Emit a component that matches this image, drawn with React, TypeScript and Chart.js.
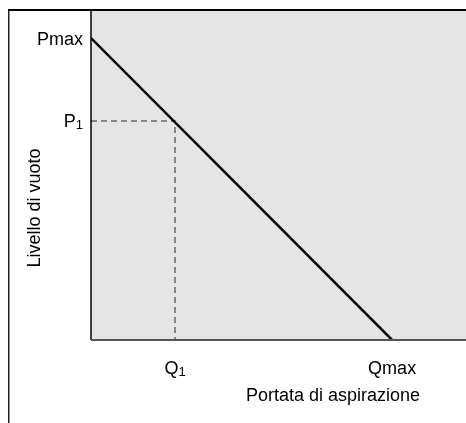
import React, { useEffect, useRef } from "react";
import { Chart, registerables } from "chart.js";

Chart.register(...registerables);

// label = [main text, subscript]
const Q_LABELS: [string, string][] = [["Q", "1"], ["Qmax", ""]];
const Q_VALUES = [22.4, 80.3];
const P_LABELS: [string, string][] = [["P", "1"], ["Pmax", ""]];
const P_VALUES = [66.4, 91.5];
const X_TITLE = "Portata di aspirazione";
const Y_TITLE = "Livello di vuoto";

const FONT = "'Liberation Sans', Arial, sans-serif";
const FS = 18;
const SUB = 13;

function labelWidth(ctx: CanvasRenderingContext2D, l: [string, string]) {
  ctx.font = `${FS}px ${FONT}`;
  const w1 = ctx.measureText(l[0]).width;
  ctx.font = `${SUB}px ${FONT}`;
  const w2 = l[1] ? ctx.measureText(l[1]).width : 0;
  return [w1, w2];
}

function drawLabel(ctx: CanvasRenderingContext2D, l: [string, string], x: number, y: number, align: "right" | "center") {
  const [w1, w2] = labelWidth(ctx, l);
  const total = w1 + w2;
  const x0 = align === "right" ? x - total : x - total / 2;
  ctx.textAlign = "left";
  ctx.textBaseline = "alphabetic";
  ctx.font = `${FS}px ${FONT}`;
  const base = y + FS * 0.36;
  ctx.fillText(l[0], x0, base);
  if (l[1]) {
    ctx.font = `${SUB}px ${FONT}`;
    ctx.fillText(l[1], x0 + w1, base + 2);
  }
}

const framePlugin = {
  id: "frame",
  beforeDatasetsDraw(chart: any) {
    const { ctx, chartArea: a } = chart;
    ctx.save();
    ctx.fillStyle = "#e5e5e5";
    ctx.fillRect(a.left, a.top, a.right - a.left, a.bottom - a.top);
    ctx.restore();
  },
  afterDraw(chart: any) {
    const { ctx, chartArea: a, width, height } = chart;
    const xs = chart.scales.x;
    const ys = chart.scales.y;
    ctx.save();
    // outer frame
    ctx.strokeStyle = "#222";
    ctx.lineWidth = 1.5;
    ctx.beginPath();
    ctx.moveTo(0.75, height);
    ctx.lineTo(0.75, a.top);
    ctx.stroke();
    ctx.strokeStyle = "#000";
    ctx.lineWidth = 2;
    ctx.beginPath();
    ctx.moveTo(0, a.top);
    ctx.lineTo(width, a.top);
    ctx.stroke();
    // plot left border
    ctx.lineWidth = 1.5;
    ctx.beginPath();
    ctx.moveTo(a.left, a.top);
    ctx.lineTo(a.left, a.bottom);
    ctx.stroke();
    // plot bottom border
    ctx.strokeStyle = "#555";
    ctx.lineWidth = 2;
    ctx.beginPath();
    ctx.moveTo(a.left, a.bottom);
    ctx.lineTo(width, a.bottom);
    ctx.stroke();
    // tick labels
    ctx.fillStyle = "#000";
    P_VALUES.forEach((v, i) => drawLabel(ctx, P_LABELS[i], a.left - 8, ys.getPixelForValue(v), "right"));
    Q_VALUES.forEach((v, i) => drawLabel(ctx, Q_LABELS[i], xs.getPixelForValue(v), a.bottom + 28, "center"));
    // titles
    ctx.font = `${FS}px ${FONT}`;
    ctx.textAlign = "center";
    ctx.textBaseline = "middle";
    ctx.fillText(X_TITLE, 325, a.bottom + 56);
    ctx.translate(27, 200);
    ctx.rotate(-Math.PI / 2);
    ctx.fillText(Y_TITLE, 0, 0);
    ctx.restore();
  },
};

const zeroPad = (s: any) => {
  s.paddingTop = 0;
  s.paddingBottom = 0;
  s.paddingLeft = 0;
  s.paddingRight = 0;
};

export default function App() {
  const ref = useRef<HTMLCanvasElement>(null);
  useEffect(() => {
    if (!ref.current) return;
    const chart = new Chart(ref.current, {
      type: "line",
      data: {
        datasets: [
          {
            data: [
              { x: 0, y: P_VALUES[1] },
              { x: Q_VALUES[1], y: 0 },
            ],
            borderColor: "#000",
            borderWidth: 2.5,
            pointRadius: 0,
            tension: 0,
          },
          {
            data: [
              { x: 0, y: P_VALUES[0] },
              { x: Q_VALUES[0], y: P_VALUES[0] },
              { x: Q_VALUES[0], y: 0 },
            ],
            borderColor: "#666",
            borderWidth: 1.5,
            borderDash: [6, 4],
            pointRadius: 0,
            tension: 0,
          },
        ],
      },
      options: {
        animation: false,
        responsive: false,
        maintainAspectRatio: false,
        layout: { padding: { top: 2, right: 0, left: 0, bottom: 0 } },
        plugins: { legend: { display: false }, tooltip: { enabled: false } },
        scales: {
          x: {
            type: "linear",
            min: 0,
            max: 100,
            grid: { display: false },
            border: { display: false },
            ticks: { display: false },
            afterFit: (s: any) => {
              s.height = 83;
              zeroPad(s);
            },
          },
          y: {
            type: "linear",
            min: 0,
            max: 100,
            grid: { display: false },
            border: { display: false },
            ticks: { display: false },
            afterFit: (s: any) => {
              s.width = 83;
              zeroPad(s);
            },
          },
        },
      },
      plugins: [framePlugin],
    });
    return () => chart.destroy();
  }, []);
  return (
    <canvas
      ref={ref}
      width={458}
      height={415}
      style={{ display: "block", position: "fixed", left: 8, top: 8, width: 458, height: 415 }}
    />
  );
}
